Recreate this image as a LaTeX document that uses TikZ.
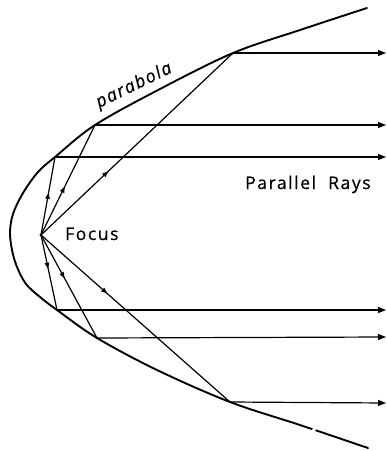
\documentclass[tikz,border=0pt]{standalone}
\usepackage{fontspec}
\setmainfont{Open Sans}[LetterSpace=9, FakeBold=0.6]
\usetikzlibrary{arrows.meta,decorations.markings}
\tikzset{
  curve/.style={line width=1.9pt, line cap=round, line join=round},
  ray/.style={line width=1.2pt, -{Triangle[length=8pt,width=6pt]}},
  inray/.style={line width=1.2pt, postaction={decorate},
    decoration={markings, mark=at position #1 with {\arrow{Triangle[length=6pt,width=4.5pt]}}}},
  lbl/.style={font=\fontsize{17.5}{20}\selectfont, inner sep=0pt},
}
\begin{document}
\begin{tikzpicture}[x=1pt,y=-1pt]
\useasboundingbox (0,0) rectangle (387,451);
% parabola
\draw[curve] plot[smooth, tension=0.55] coordinates {
 (367,8) (300,30) (233,53) (160,89) (95,125) (55,157) (38,172) (23,193)
 (13,214) (10,232) (12,250) (17,267) (26,284) (40,297) (57,310) (97,338)
 (157,370) (230,402) (300,425) (368,448)};
\draw[white, line width=3.5pt] (312.5,429.2) -- (315.5,430.2);
% points
\coordinate (F) at (41,235);
\coordinate (A1) at (233,53);
\coordinate (A2) at (95,125);
\coordinate (A3) at (55,157);
\coordinate (B1) at (57,310);
\coordinate (B2) at (97,338);
\coordinate (B3) at (230,402);
\coordinate (EA1) at (386,53);
\coordinate (EA2) at (386,125);
\coordinate (EA3) at (386,157);
\coordinate (EB1) at (386,310);
\coordinate (EB2) at (386,337);
\coordinate (EB3) at (386,403);
% rays from focus
\draw[inray=0.54] (F) -- (A3);
\draw[inray=0.44] (F) -- (A2);
\draw[inray=0.35] (F) -- (A1);
\draw[inray=0.45] (F) -- (B1);
\draw[inray=0.42] (F) -- (B2);
\draw[inray=0.35] (F) -- (B3);
% parallel rays
\draw[ray] (A1) -- (EA1);
\draw[ray] (A2) -- (EA2);
\draw[ray] (A3) -- (EA3);
\draw[ray] (B1) -- (EB1);
\draw[ray] (B2) -- (EB2);
\draw[ray] (B3) -- (EB3);
\fill (F) circle (1.6pt);
% labels
\node[lbl, anchor=base west] (lf) at (65,240) {Focus};
\node[lbl, anchor=base west] (lr) at (245,189) {Parallel\hspace{6pt} Rays};
\node[lbl, anchor=base west, rotate=26, font=\fontsize{17.5}{20}\selectfont\itshape] (lp) at (99,108) {parabola};
\end{tikzpicture}
\end{document}
